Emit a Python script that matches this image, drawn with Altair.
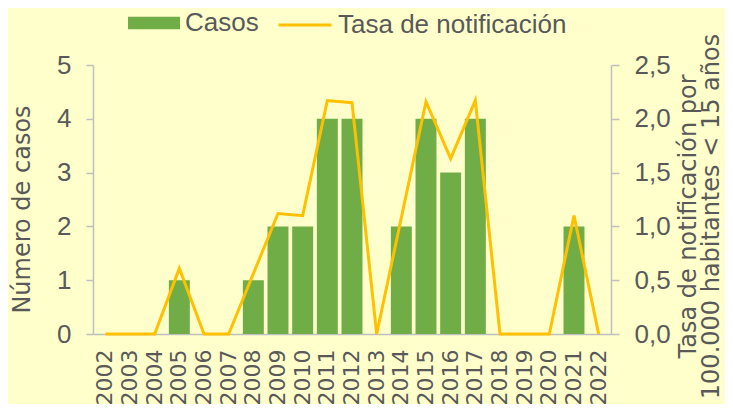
import altair as alt
import pandas as pd

years = [str(y) for y in range(2002, 2023)]
cases = [0, 0, 0, 1, 0, 0, 1, 2, 2, 4, 4, 0, 2, 4, 3, 4, 0, 0, 0, 2, 0]
rate = [0, 0, 0, 0.61, 0, 0, 0.56, 1.12, 1.10, 2.17, 2.15, 0, 1.08, 2.16, 1.63, 2.17, 0, 0, 0, 1.10, 0]

df = pd.DataFrame({
    "year": years,
    "cases": cases,
    "rate": rate,
    "s1": ["Casos"] * len(years),
    "s2": ["Tasa de notificación"] * len(years),
})

FONT = "Liberation Sans"
RFONT = "DejaVu Sans"
TXT = "#595959"
AX = "#BFBFBF"
BG = "#FFFFCC"
GREEN = "#70AD47"
ORANGE = "#FFC000"

x = alt.X("year:N", sort=years, title=None,
          scale=alt.Scale(paddingInner=0.15, paddingOuter=0.075),
          axis=alt.Axis(labelAngle=-90, labelFontSize=22, labelColor=TXT, labelFont=RFONT,
                        labelPadding=15, ticks=False, domainColor=AX, domainWidth=1.5,
                        labelAlign="right", labelBaseline="middle"))

bars = alt.Chart(df).mark_bar().encode(
    x=x,
    y=alt.Y("cases:Q", scale=alt.Scale(domain=[0, 5], nice=False),
            axis=alt.Axis(title="Número de casos", values=[0, 1, 2, 3, 4, 5], orient="left",
                          grid=False, labelFontSize=26, labelColor=TXT, labelFont=FONT,
                          labelPadding=15, tickSize=7, tickColor=AX, tickWidth=1.5,
                          domainColor=AX, domainWidth=1.5,
                          titleFontSize=24, titleColor=TXT, titleFont=RFONT,
                          titleFontWeight="normal", titlePadding=22, titleY=144)),
    color=alt.Color("s1:N", scale=alt.Scale(domain=["Casos"], range=[GREEN]),
                    legend=alt.Legend(title=None, orient="none", legendX=35, legendY=-68,
                                      symbolType="M-1,-0.236H1V0.236H-1Z", symbolSize=2704,
                                      symbolStrokeWidth=0, labelFontSize=26, labelColor=TXT,
                                      labelFont=FONT, labelOffset=5, padding=0, labelLimit=0)),
)

line = alt.Chart(df).mark_line(strokeWidth=3).encode(
    x=x,
    y=alt.Y("rate:Q", scale=alt.Scale(domain=[0, 2.5], nice=False),
            axis=alt.Axis(title=["Tasa de notificación por", "100.000 habitantes < 15 años"],
                          orient="right", values=[0, 0.5, 1, 1.5, 2, 2.5],
                          labelExpr="replace(format(datum.value, '.1f'), '.', ',')",
                          grid=False, labelFontSize=26, labelColor=TXT, labelFont=FONT,
                          labelPadding=15, tickSize=8, tickColor=AX, tickWidth=1.5,
                          domainColor=AX, domainWidth=1.5,
                          titleFontSize=24, titleColor=TXT, titleFont=RFONT,
                          titleFontWeight="normal", titleAngle=270, titlePadding=7,
                          titleLineHeight=23, titleY=151)),
    stroke=alt.Stroke("s2:N", scale=alt.Scale(domain=["Tasa de notificación"], range=[ORANGE]),
                      legend=alt.Legend(title=None, orient="none", legendX=184, legendY=-68,
                                        symbolType="stroke", symbolSize=2809,
                                        symbolStrokeWidth=3, labelFontSize=26, labelColor=TXT,
                                        labelFont=FONT, labelOffset=5, padding=0, labelLimit=0)),
)

chart = alt.layer(bars, line).resolve_scale(y="independent", color="independent").properties(
    width=518, height=269,
    background=BG,
    padding={"left": 85, "top": 57, "right": 114, "bottom": 70},
    autosize=alt.AutoSizeParams(type="none"),
).configure_view(stroke=None)

chart.save("out.html", embed_options={"renderer": "svg", "actions": False})
